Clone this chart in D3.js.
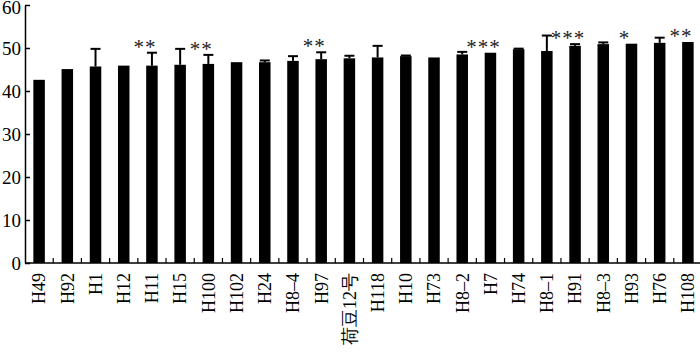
<!DOCTYPE html>
<html>
<head>
<meta charset="utf-8">
<script src="https://cdn.jsdelivr.net/npm/d3@7"></script>
<style>
  body { margin: 0; background: #fff; }
  svg text { font-family: "Liberation Serif", "Times New Roman", serif; }
</style>
</head>
<body>
<div id="chart"></div>
<script>
// categories (x axis)
var lines = ["H49", "H92", "H1", "H12", "H11", "H15", "H100", "H102", "H24", "H8\u20134", "H97", "荷豆12号",
    "H118", "H10", "H73", "H8\u20132", "H7", "H74", "H8\u20131", "H91", "H8\u20133", "H93", "H76", "H108"];
// bar heights
var means = [42.6, 45.1, 45.7, 45.9, 45.9, 46.1, 46.3, 46.7, 46.7, 47.0, 47.4, 47.6,
    47.8, 48.1, 47.8, 48.5, 48.9, 49.7, 49.3, 50.5, 50.9, 51.0, 51.2, 51.4];
// error bar (upper only)
var errs = [0, 0, 4.1, 0, 3.0, 3.7, 2.1, 0, 0.4, 1.1, 1.6, 0.6,
    2.7, 0.15, 0, 0.6, 0, 0.15, 3.6, 0.4, 0.4, 0, 1.2, 0];
// significance marks
var stars = ["", "", "", "", "**", "", "**", "", "", "", "**", "",
    "", "", "", "", "***", "", "", "***", "", "*", "", "**"];
var yTicks = [0, 10, 20, 30, 40, 50, 60];

var width = 700;
var height = 353;

var data = lines.map(function (d, i) {
    return { name: d, mean: means[i], err: errs[i], star: stars[i] };
});

var svg = d3.select("#chart").append("svg")
    .attr("width", width)
    .attr("height", height);

var x = d3.scaleBand()
    .domain(lines)
    .range([25, 702]);

var y = d3.scaleLinear()
    .domain([0, 60])
    .range([263, 5]);

var barW = 11.5;
var cx = d => x(d.name) + x.bandwidth() / 2;

// bars
svg.selectAll(".bar")
    .data(data)
    .enter()
    .append("rect")
    .attr("class", "bar")
    .attr("x", d => cx(d) - barW / 2)
    .attr("y", d => y(d.mean))
    .attr("width", barW)
    .attr("height", d => y(0) - y(d.mean))
    .attr("fill", "#000");

// error bars
var eb = svg.selectAll(".err")
    .data(data.filter(d => d.err > 0))
    .enter()
    .append("g")
    .attr("class", "err")
    .attr("stroke", "#000");

eb.append("line")
    .attr("x1", cx)
    .attr("x2", cx)
    .attr("y1", d => y(d.mean))
    .attr("y2", d => y(d.mean + d.err))
    .attr("stroke-width", 2);

eb.append("line")
    .attr("x1", d => cx(d) - 5)
    .attr("x2", d => cx(d) + 5)
    .attr("y1", d => y(d.mean + d.err))
    .attr("y2", d => y(d.mean + d.err))
    .attr("stroke-width", 2);

// stars
svg.selectAll(".star")
    .data(data.filter(d => d.star))
    .enter()
    .append("text")
    .attr("class", "star")
    .attr("x", d => cx(d) - 7)
    .attr("y", d => y(d.mean + d.err) + 1)
    .attr("text-anchor", "middle")
    .attr("font-size", "21px")
    .attr("letter-spacing", "1px")
    .attr("fill", "#222")
    .text(d => d.star);

// y axis
var leftAxis = d3.axisLeft(y)
    .tickValues(yTicks)
    .tickSizeInner(-5)
    .tickSizeOuter(0)
    .tickPadding(4);

var gy = svg.append("g")
    .attr("transform", "translate(25,0)")
    .call(leftAxis);
gy.select(".domain").attr("stroke-width", 1.5);
gy.selectAll(".tick line").attr("stroke-width", 1.5);
gy.selectAll("text")
    .attr("font-size", "19px")
    .attr("font-family", "Liberation Serif, serif")
    .attr("fill", "#000")
    .attr("dy", d => d === 60 ? "0.45em" : "0.32em");

// x axis: line + small upward ticks between bars
svg.append("line")
    .attr("x1", 25)
    .attr("x2", width)
    .attr("y1", y(0))
    .attr("y2", y(0))
    .attr("stroke", "#000")
    .attr("stroke-width", 1.5);

svg.selectAll(".xtick")
    .data(lines.slice(1))
    .enter()
    .append("line")
    .attr("class", "xtick")
    .attr("x1", d => x(d))
    .attr("x2", d => x(d))
    .attr("y1", y(0))
    .attr("y2", y(0) - 5)
    .attr("stroke", "#000")
    .attr("stroke-width", 1.2);

svg.selectAll(".xlabel")
    .data(lines)
    .enter()
    .append("text")
    .attr("class", "xlabel")
    .attr("transform", d => `translate(${x(d) + x.bandwidth() / 2}, 273) rotate(-90)`)
    .attr("dy", "0.35em")
    .attr("text-anchor", "end")
    .attr("font-size", "18px")
    .attr("font-family", d => /[\u4e00-\u9fff]/.test(d) ? "Liberation Serif, Noto Sans CJK SC, serif" : "Liberation Serif, serif")
    .text(d => d);
</script>
</body>
</html>
